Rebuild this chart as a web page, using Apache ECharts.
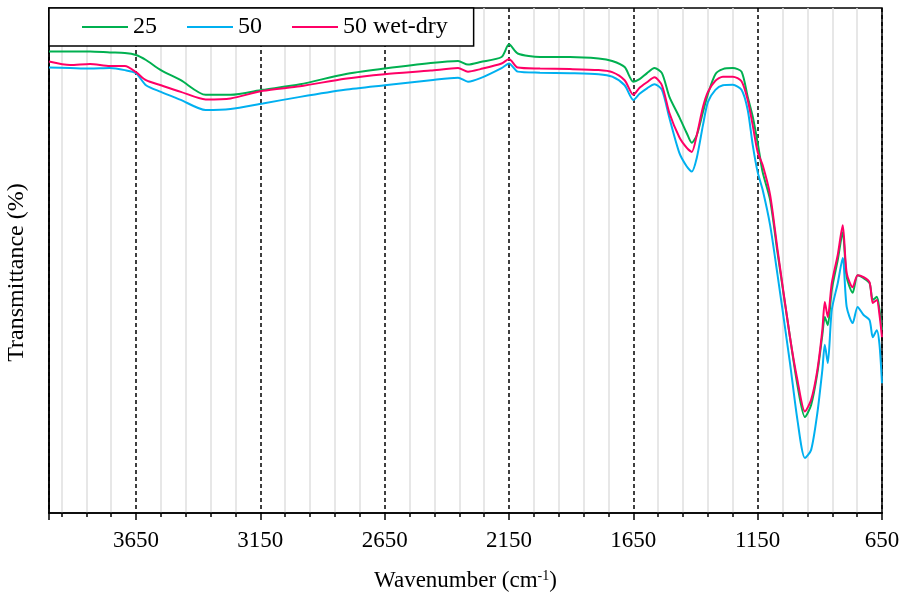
<!DOCTYPE html>
<html>
<head>
<meta charset="utf-8">
<script src="https://cdn.jsdelivr.net/npm/echarts@6/dist/echarts.min.js"></script>
<style>
  html, body { margin: 0; padding: 0; background: #fff; }
  #chart { width: 906px; height: 598px; }
</style>
</head>
<body>
<div id="chart"></div>
<script>
// FTIR spectra: wavenumber (cm-1) against transmittance (%)
const wavenumbers = [
  4000, 3915, 3835, 3755, 3695, 3650, 3610, 3550, 3470, 3370,
  3270, 3140, 2990, 2810, 2650, 2465, 2355, 2315, 2265, 2180,
  2150, 2115, 2025, 1905, 1790, 1735, 1685, 1650, 1625, 1595,
  1565, 1535, 1505, 1465, 1435, 1415, 1395, 1370, 1350, 1320,
  1290, 1250, 1215, 1190, 1170, 1150, 1130, 1100, 1070, 1020,
  990, 960, 935, 910, 890, 880, 868, 852, 828, 808,
  792, 768, 748, 724, 700, 687, 671, 660, 650
];

const t25 = [
  91.4, 91.4, 91.4, 91.2, 91.1, 90.7, 89.7, 87.7, 85.7, 82.8,
  82.8, 83.8, 84.9, 86.9, 88.0, 89.1, 89.5, 88.8, 89.3, 90.3,
  92.8, 91.0, 90.3, 90.3, 90.0, 89.5, 88.3, 85.4, 85.9, 87.1,
  88.1, 87.1, 82.4, 78.4, 75.2, 73.3, 74.8, 79.4, 83.0, 86.9,
  87.9, 88.1, 87.4, 82.4, 78.5, 73.3, 67.5, 62.0, 51.5, 34.8,
  25.3, 19.0, 21.4, 27.7, 35.2, 38.8, 37.2, 44.2, 50.1, 55.6,
  46.7, 43.6, 47.1, 46.5, 45.5, 42.2, 42.8, 40.2, 36.2
];

const t50 = [
  88.2, 88.1, 88.0, 88.1, 87.7, 87.1, 84.7, 83.4, 81.8, 79.8,
  80.0, 81.1, 82.4, 83.8, 84.7, 85.7, 86.2, 85.4, 86.1, 88.1,
  89.0, 87.4, 87.2, 87.1, 86.9, 86.4, 84.7, 81.8, 83.0, 84.1,
  84.9, 83.8, 78.2, 71.3, 68.6, 67.6, 70.3, 76.8, 81.4, 83.8,
  84.7, 84.8, 83.8, 79.8, 72.9, 67.5, 64.0, 57.0, 47.1, 29.7,
  18.4, 10.9, 12.5, 19.8, 28.3, 33.3, 29.7, 40.2, 45.5, 50.5,
  40.8, 37.6, 40.8, 39.2, 38.2, 34.8, 36.2, 33.3, 25.7
];

const t50WetDry = [
  89.4, 88.7, 88.9, 88.5, 88.5, 87.3, 85.7, 84.7, 83.4, 81.9,
  82.1, 83.6, 84.5, 86.0, 86.9, 87.6, 88.1, 87.4, 87.9, 89.0,
  89.9, 88.2, 88.0, 87.9, 87.7, 87.3, 85.7, 82.8, 84.2, 85.3,
  86.3, 84.7, 79.2, 74.4, 72.3, 71.5, 74.8, 80.4, 83.4, 85.6,
  86.4, 86.4, 85.5, 81.8, 76.8, 71.5, 68.9, 63.0, 52.1, 34.8,
  26.3, 20.1, 22.4, 28.3, 36.2, 41.8, 38.8, 45.5, 51.1, 57.0,
  47.5, 44.7, 47.1, 46.7, 45.7, 41.6, 42.2, 39.2, 34.8
];

const seriesNames = ['25', '50', '50 wet-dry'];
const seriesColors = ['#00b050', '#00b0f0', '#ff0066'];

const FONT = "'Liberation Serif', 'Times New Roman', serif";

function pairs(values) {
  return wavenumbers.map((w, i) => [w, values[i]]);
}

const chart = echarts.init(document.getElementById('chart'), null, { renderer: 'canvas' });

const lineSeries = [t25, t50, t50WetDry].map((vals, i) => ({
  name: seriesNames[i],
  type: 'line',
  data: pairs(vals),
  symbol: 'none',
  smooth: 0.25,
  lineStyle: { color: seriesColors[i], width: 2 },
  itemStyle: { color: seriesColors[i] },
  z: 2 + i
}));

chart.setOption({
  animation: false,
  backgroundColor: '#fff',
  grid: {
    left: 49, right: 24, top: 8, bottom: 85,
    containLabel: false,
    outerBoundsMode: 'none',
    show: true, borderColor: '#000', borderWidth: 1.5, backgroundColor: 'transparent'
  },
  legend: {
    left: 49, top: 8,
    data: seriesNames,
    icon: 'rect',
    itemWidth: 46, itemHeight: 2, itemGap: 30,
    padding: [7, 26, 7, 33],
    backgroundColor: '#fff',
    borderColor: '#000', borderWidth: 1.5,
    textStyle: { fontFamily: FONT, fontSize: 24, color: '#000' },
    z: 10
  },
  xAxis: {
    type: 'value',
    inverse: true,
    min: 650, max: 4000, interval: 500,
    name: 'Wavenumber (cm{sup|-1})',
    nameLocation: 'middle',
    nameGap: 56,
    nameTextStyle: {
      fontFamily: FONT, fontSize: 23, color: '#000',
      rich: { sup: { fontFamily: FONT, fontSize: 14, color: '#000', verticalAlign: 'top' } }
    },
    axisLine: { show: true, lineStyle: { color: '#000', width: 1.5 } },
    axisTick: { show: true, inside: false, length: 7, lineStyle: { color: '#000', width: 1.5 } },
    minorTick: { show: true, splitNumber: 5, length: 4, lineStyle: { color: '#000', width: 1.5 } },
    axisLabel: {
      fontFamily: FONT, fontSize: 23, color: '#000', margin: 16,
      formatter: v => (v === 4000 ? '' : String(v))
    },
    splitLine: { show: true, lineStyle: { color: '#000', width: 1.5, type: [4, 3] } },
    minorSplitLine: { show: true, lineStyle: { color: '#e0e0e0', width: 1.5 } }
  },
  yAxis: {
    type: 'value',
    min: 0, max: 100,
    name: 'Transmittance (%)',
    nameLocation: 'middle',
    nameGap: 20,
    nameTextStyle: { fontFamily: FONT, fontSize: 24, color: '#000', padding: [0, 24, 0, 0] },
    axisLine: { show: true, lineStyle: { color: '#000', width: 1.5 } },
    axisTick: { show: false },
    axisLabel: { show: false },
    splitLine: { show: false }
  },
  series: lineSeries
});
</script>
</body>
</html>
